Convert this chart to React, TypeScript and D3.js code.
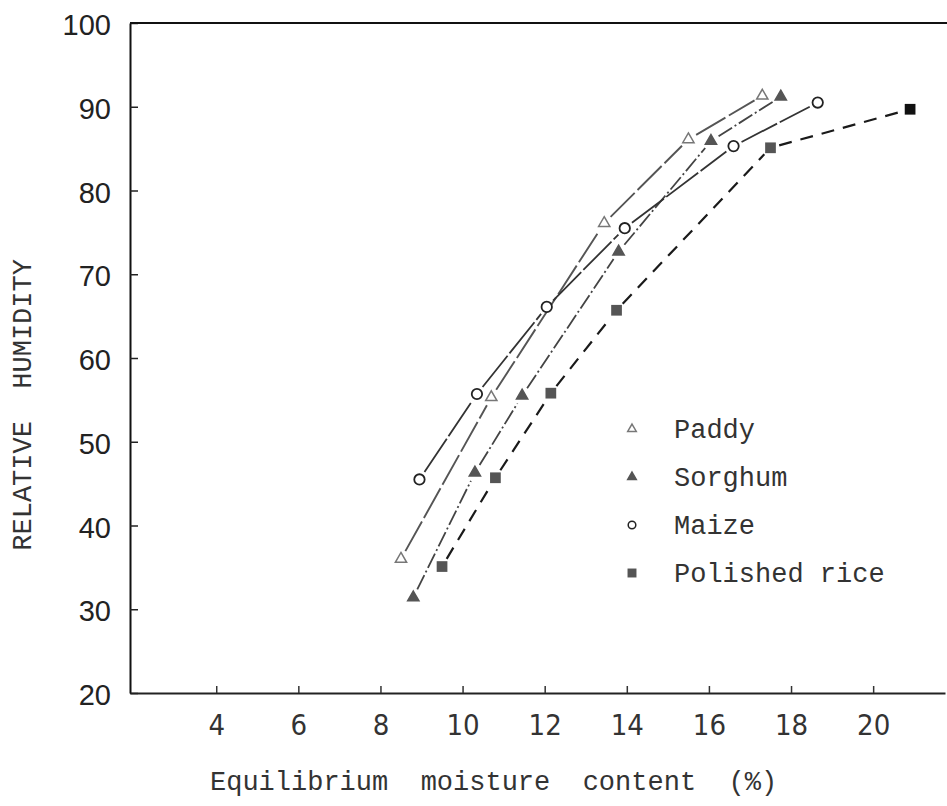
import React, { useRef, useEffect } from "react";
import { select, scaleLinear, axisLeft, axisBottom, symbol, symbolTriangle, symbolSquare } from "d3";

// values
const xTicks = [4, 6, 8, 10, 12, 14, 16, 18, 20];
const yTicks = [20, 30, 40, 50, 60, 70, 80, 90, 100];

const paddyX = [8.5, 10.7, 13.45, 15.5, 17.3];
const paddyY = [36, 55.3, 76.1, 86.1, 91.3];
const sorghumX = [8.8, 10.3, 11.45, 13.8, 16.05, 17.75];
const sorghumY = [31.4, 46.3, 55.5, 72.7, 85.9, 91.2];
const maizeX = [8.95, 10.35, 12.05, 13.95, 16.6, 18.65];
const maizeY = [45.5, 55.7, 66.1, 75.5, 85.3, 90.5];
const riceX = [9.5, 10.8, 12.15, 13.75, 17.5, 20.9];
const riceY = [35.1, 45.7, 55.8, 65.7, 85.1, 89.7];

const legendNames = ["Paddy", "Sorghum", "Maize", "Polished rice"];

const W = 947;
const H = 806;

function App() {
  const svgRef = useRef(null);

  useEffect(() => {
    const svg = select(svgRef.current);
    svg.selectAll("*").remove();

    const xScale = scaleLinear().domain([1.9, 21.75]).range([130, 945]);
    const yScale = scaleLinear().domain([20, 100]).range([693, 23]);

    const series = [
      { name: legendNames[0], xs: paddyX, ys: paddyY, mark: "openTri", stroke: "#555", dash: "34 4", w: 1.9 },
      { name: legendNames[1], xs: sorghumX, ys: sorghumY, mark: "tri", stroke: "#444", dash: "16 3 2 3", w: 1.8 },
      { name: legendNames[2], xs: maizeX, ys: maizeY, mark: "circle", stroke: "#333", dash: "40 3", w: 1.8 },
      { name: legendNames[3], xs: riceX, ys: riceY, mark: "square", stroke: "#1a1a1a", dash: "13 9", w: 2.2 },
    ];

    // axes
    const yAxis = axisLeft(yScale).tickValues(yTicks).tickSizeInner(-8).tickSizeOuter(0).tickPadding(19);
    const gy = svg.append("g").attr("transform", "translate(130,0)").call(yAxis);
    gy.select(".domain").attr("stroke", "#111").attr("stroke-width", 2);
    gy.selectAll(".tick line").attr("stroke", "#222").attr("stroke-width", 1.5);
    gy.selectAll(".tick text")
      .attr("fill", "#222")
      .attr("dy", "0.4em")
      .style("font-family", "'Liberation Sans', Arial, sans-serif")
      .style("font-size", "29px");

    const xAxis = axisBottom(xScale).tickValues(xTicks).tickSizeInner(-7).tickSizeOuter(0).tickPadding(21);
    const gx = svg.append("g").attr("transform", "translate(0,693)").call(xAxis);
    gx.select(".domain").attr("stroke", "#222").attr("stroke-width", 2);
    gx.selectAll(".tick line").attr("stroke", "#333").attr("stroke-width", 1.5);
    gx.selectAll(".tick text")
      .attr("fill", "#333")
      .style("font-family", "'Liberation Sans Narrow', 'DejaVu Sans Condensed', sans-serif")
      .style("font-size", "29px");

    // top frame line
    svg.append("line")
      .attr("x1", xScale(1.9)).attr("x2", W)
      .attr("y1", yScale(100)).attr("y2", yScale(100))
      .attr("stroke", "#111").attr("stroke-width", 2);

    // axis titles
    svg.append("text")
      .attr("transform", `translate(31,${yScale(54.4)}) rotate(-90)`)
      .attr("text-anchor", "middle")
      .attr("fill", "#333")
      .style("font-family", "'Liberation Mono', monospace")
      .style("font-size", "27px")
      .style("white-space", "pre")
      .text("RELATIVE  HUMIDITY");

    svg.append("text")
      .attr("x", 210)
      .attr("y", 790)
      .attr("fill", "#333")
      .style("font-family", "'Liberation Mono', monospace")
      .style("font-size", "27px")
      .style("white-space", "pre")
      .text("Equilibrium  moisture  content  (%)");

    // broken lines between markers
    const gap = 9;
    series.forEach((s) => {
      for (let i = 0; i < s.xs.length - 1; i++) {
        const x1 = xScale(s.xs[i]), y1 = yScale(s.ys[i]);
        const x2 = xScale(s.xs[i + 1]), y2 = yScale(s.ys[i + 1]);
        const len = Math.hypot(x2 - x1, y2 - y1);
        const ux = (x2 - x1) / len, uy = (y2 - y1) / len;
        svg.append("line")
          .attr("x1", x1 + ux * gap).attr("y1", y1 + uy * gap)
          .attr("x2", x2 - ux * gap).attr("y2", y2 - uy * gap)
          .attr("stroke", s.stroke)
          .attr("stroke-width", s.w)
          .attr("stroke-dasharray", s.dash);
      }
    });

    function drawMark(g, kind, x, y, big) {
      if (kind === "circle") {
        g.append("circle").attr("cx", x).attr("cy", y).attr("r", big ? 5.2 : 3.8)
          .attr("fill", "white").attr("stroke", "#222").attr("stroke-width", big ? 1.8 : 1.5);
      } else if (kind === "square") {
        g.append("path").attr("transform", `translate(${x},${y})`)
          .attr("d", symbol().type(symbolSquare).size(big ? 115 : 80)())
          .attr("fill", "#555");
      } else {
        g.append("path").attr("transform", `translate(${x},${y})`)
          .attr("d", symbol().type(symbolTriangle).size(big ? 55 : 32)())
          .attr("fill", kind === "tri" ? "#555" : "white")
          .attr("stroke", kind === "tri" ? "#555" : "#777")
          .attr("stroke-width", 1.5);
      }
    }

    const marks = svg.append("g");
    series.forEach((s) => {
      s.xs.forEach((xv, i) => {
        drawMark(marks, s.mark, xScale(xv), yScale(s.ys[i]), true);
      });
    });
    // last polished rice point is printed solid black
    marks.select("path:last-child").attr("fill", "#111");

    // legend
    const legend = svg.append("g");
    series.forEach((s, i) => {
      const ty = 438 + i * 48;
      drawMark(legend, s.mark, 632, ty - 9, false);
      legend.append("text")
        .attr("x", 674)
        .attr("y", ty)
        .attr("fill", "#333")
        .style("font-family", "'Liberation Mono', monospace")
        .style("font-size", "27px")
        .text(s.name);
    });
  }, []);

  return (
    <svg ref={svgRef} width={W} height={H} style={{ position: "absolute", left: 0, top: 0, background: "white" }} />
  );
}

export default App;
